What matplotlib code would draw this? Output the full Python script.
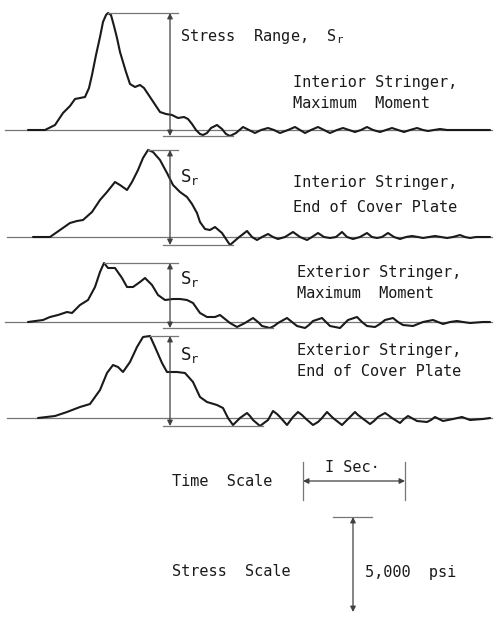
import matplotlib.pyplot as plt

# stress traces: time position and stress above the zero line (chart units)
T1 = [28, 45, 55, 63, 70, 75, 80, 85, 89, 92, 96, 100, 103, 106, 108, 111, 114, 117, 120, 123,
      126, 130, 135, 140, 144, 148, 152, 156, 160, 166, 172, 178, 184, 188, 192, 196, 200, 203, 207, 211,
      217, 222, 226, 230, 236, 243, 249, 255, 261, 268, 274, 280, 288, 295, 300, 305, 311, 318, 324, 330,
      337, 343, 349, 355, 361, 367, 373, 380, 386, 392, 398, 404, 410, 417, 423, 428, 434, 440, 447, 455, 490]
S1 = [0, 0, 5, 17, 24, 31, 32, 33, 42, 55, 75, 93, 108, 115, 117, 115, 104, 92, 78, 68,
      58, 46, 43, 45, 42, 36, 30, 24, 18, 16, 15, 12, 13, 11, 6, 0, -4, -5, -3, 2,
      5, 1, -4, -6, -3, 3, 0, -3, 0, 2, 0, -3, 0, 3, 0, -3, 0, 3, 0, -3,
      0, 2, 0, -2, 0, 3, 0, -2, 0, 2, 0, -2, 0, 2, 0, -1, 0, 1, 0, 0, 0]

T2 = [33, 50, 60, 70, 77, 83, 92, 100, 107, 115, 120, 127, 132, 138, 143, 148, 153, 160, 167, 173,
      180, 187, 192, 197, 200, 205, 210, 215, 222, 226, 230, 238, 247, 252, 257, 262, 268, 273, 278, 285,
      293, 300, 307, 312, 318, 324, 330, 336, 342, 347, 353, 360, 367, 372, 377, 382, 388, 394, 400, 406,
      412, 418, 423, 429, 435, 441, 447, 453, 460, 465, 470, 476, 483, 490]
S2 = [0, 0, 7, 14, 16, 17, 25, 37, 45, 55, 52, 47, 55, 67, 79, 87, 85, 77, 64, 52,
      45, 40, 33, 24, 15, 8, 7, 10, 4, -2, -8, -1, 6, 0, -3, 0, 3, 0, -2, 0,
      5, 0, -3, 0, 4, 0, -1, 0, 5, 0, -2, 0, 4, 0, -1, 0, 4, 0, -2, 0,
      1, 0, -1, 0, 1, 0, -1, 0, 2, 0, -1, 0, 0, 0]

T3 = [28, 43, 50, 58, 67, 72, 80, 88, 95, 100, 104, 108, 115, 122, 127, 133, 140, 145, 152, 158,
      165, 173, 180, 187, 193, 200, 207, 215, 220, 225, 230, 237, 241, 245, 253, 258, 262, 270, 274, 278,
      287, 292, 297, 305, 309, 313, 322, 326, 330, 340, 344, 348, 357, 362, 367, 375, 380, 385, 393, 398,
      403, 413, 418, 423, 433, 438, 443, 450, 457, 463, 470, 483, 490]
S3 = [0, 2, 5, 7, 10, 9, 17, 22, 35, 50, 59, 54, 54, 44, 35, 35, 40, 44, 37, 27,
      22, 23, 23, 22, 19, 9, 5, 5, 7, 3, -1, -5, -3, -1, 4, 0, -4, -6, -4, -1,
      4, 0, -4, -6, -3, 1, 4, 0, -4, -6, -2, 2, 5, 0, -4, -5, -2, 2, 4, 0,
      -3, -4, -2, 0, 2, 0, -2, 0, 1, 0, -1, 0, 0]

T4 = [38, 55, 67, 80, 90, 100, 107, 113, 118, 123, 130, 137, 143, 150, 155, 162, 167, 177, 185, 193,
      200, 207, 217, 223, 228, 233, 236, 240, 247, 250, 253, 260, 264, 268, 273, 277, 280, 287, 290, 293,
      298, 302, 305, 313, 318, 322, 327, 330, 333, 342, 346, 350, 355, 358, 362, 370, 374, 378, 385, 388,
      392, 400, 404, 408, 417, 427, 431, 435, 443, 448, 453, 462, 470, 483, 490]
S4 = [0, 2, 6, 11, 14, 28, 45, 53, 51, 46, 56, 71, 81, 82, 71, 55, 46, 46, 45, 36,
      21, 16, 13, 10, 0, -7, -4, 0, 5, 2, -2, -8, -5, -2, 7, 4, 1, -7, -3, 1,
      6, 3, 0, -7, -4, 0, 6, 3, 0, -7, -3, 1, 6, 3, 0, -6, -3, 1, 5, 3,
      0, -5, -1, 2, -3, -4, -2, 1, -3, -2, -1, 1, -2, -1, 0]

TRACES = [(T1, S1), (T2, S2), (T3, S3), (T4, S4)]
LABELS = [("Interior Stringer,", "Maximum  Moment"),
          ("Interior Stringer,", "End of Cover Plate"),
          ("Exterior Stringer,", "Maximum  Moment"),
          ("Exterior Stringer,", "End of Cover Plate")]

# layout (figure pixels)
ZERO_Y = [130, 237, 322, 418]
ZERO_X0 = [5, 7, 5, 7]
LABEL_X = [293, 293, 297, 297]
LABEL_Y = [(82, 104), (183, 207), (273, 294), (350, 372)]
SR_Y = [None, 177, 279, 355]
ARROW_X = 170

INK = '#1a1a1a'
GREY = '#777777'
FONT = 'DejaVu Sans Mono'

fig = plt.figure(figsize=(4.97, 6.18), dpi=100)
ax = fig.add_axes([0, 0, 1, 1])
ax.set_xlim(0, 497)
ax.set_ylim(618, 0)
ax.axis('off')

for i, (t, s) in enumerate(TRACES):
    y0 = ZERO_Y[i]
    ax.plot([ZERO_X0[i], 492], [y0, y0], color=GREY, lw=0.9)
    y = [y0 - v for v in s]
    ax.plot(t, y, color=INK, lw=1.5, solid_joinstyle='round', solid_capstyle='round')
    # stress range marks
    top = min(y)
    bot = max(y)
    t_peak = t[y.index(top)]
    t_low = t[y.index(bot)]
    ax.plot([t_peak, ARROW_X + 8], [top, top], color=GREY, lw=0.9)
    ax.plot([ARROW_X - 7, t_low + 3], [bot, bot], color=GREY, lw=0.9)
    ax.annotate('', xy=(ARROW_X, top), xytext=(ARROW_X, bot),
                arrowprops=dict(arrowstyle='<|-|>', color='#404040', lw=0.9,
                                mutation_scale=8, shrinkA=0, shrinkB=0))
    ax.text(LABEL_X[i], LABEL_Y[i][0], LABELS[i][0], fontsize=11, family=FONT,
            color=INK, va='center', ha='left')
    ax.text(LABEL_X[i], LABEL_Y[i][1], LABELS[i][1], fontsize=11, family=FONT,
            color=INK, va='center', ha='left')
    if SR_Y[i] is not None:
        ax.text(ARROW_X + 10, SR_Y[i], r'S$_\mathregular{r}$', fontsize=12.5, family=FONT,
                color=INK, va='center', ha='left')

ax.text(ARROW_X + 10, 37, r'Stress  Range,  S$_\mathregular{r}$', fontsize=11, family=FONT,
        color=INK, va='center', ha='left')

# time scale
ax.text(172, 481, 'Time  Scale', fontsize=11, family=FONT, color=INK, va='center', ha='left')
ax.plot([303, 303], [462, 500], color=GREY, lw=0.9)
ax.plot([405, 405], [462, 500], color=GREY, lw=0.9)
ax.annotate('', xy=(303, 481), xytext=(405, 481),
            arrowprops=dict(arrowstyle='<|-|>', color='#404040', lw=0.9,
                            mutation_scale=8, shrinkA=0, shrinkB=0))
ax.text(352, 468, 'I Sec\u00b7', fontsize=11, family=FONT, color=INK, va='center', ha='center')

# stress scale
ax.text(172, 571, 'Stress  Scale', fontsize=11, family=FONT, color=INK, va='center', ha='left')
ax.plot([333, 372], [517, 517], color=GREY, lw=0.9)
ax.annotate('', xy=(353, 517), xytext=(353, 612),
            arrowprops=dict(arrowstyle='<|-|>', color='#404040', lw=0.9,
                            mutation_scale=8, shrinkA=0, shrinkB=0))
ax.text(365, 572, '5,000  psi', fontsize=11, family=FONT, color=INK, va='center', ha='left')

fig.savefig('out.png', dpi=100)
